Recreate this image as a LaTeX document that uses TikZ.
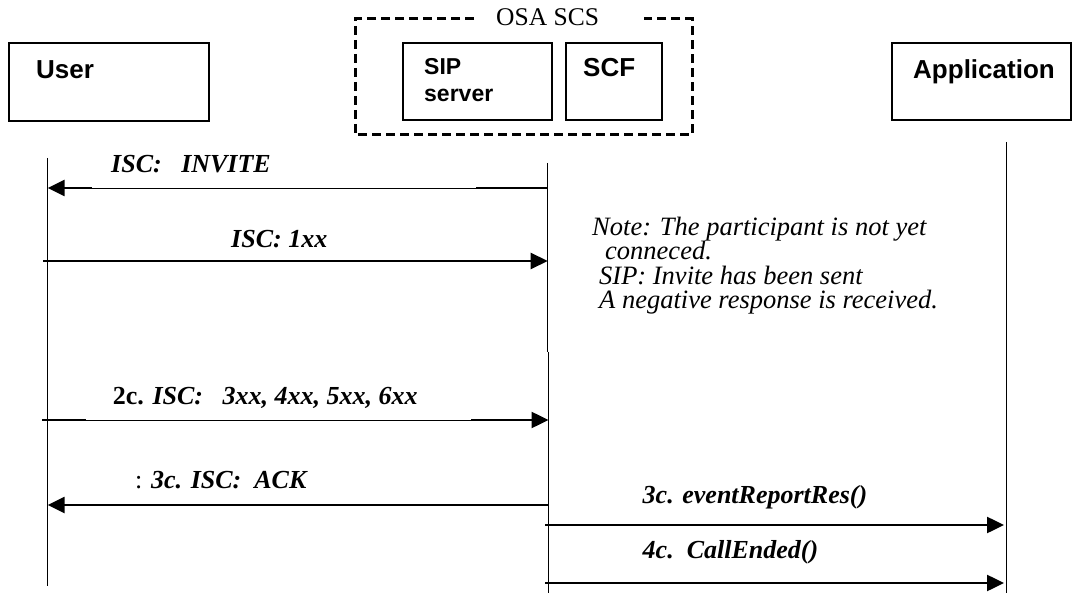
\documentclass[tikz,border=0pt]{standalone}
\usepackage{fontspec}
\setmainfont{Liberation Serif}
\newfontfamily\arialfont{Liberation Sans}
\usetikzlibrary{arrows.meta}
\begin{document}
\begin{tikzpicture}[x=1pt,y=-1pt,
  box/.style={draw,line width=1.3pt},
  dashbox/.style={line width=3pt,dash pattern=on 9pt off 5pt},
  boxlabel/.style={anchor=base west,inner sep=0,font=\arialfont\bfseries\fontsize{26}{26}\selectfont},
  sipfont/.style={anchor=base west,inner sep=0,font=\arialfont\bfseries\fontsize{23}{23}\selectfont},
  life/.style={line width=1.3pt},
  thickline/.style={line width=2.5pt},
  thinline/.style={line width=0.9pt},
  msg/.style={line width=2.5pt,-{Triangle[length=17pt,width=16pt]}},
  msglabel/.style={anchor=base west,inner sep=0,font=\bfseries\itshape\fontsize{26}{26}\selectfont},
  notetext/.style={anchor=base west,inner sep=0,font=\itshape\fontsize{26.5}{26.5}\selectfont},
  osalabel/.style={anchor=base west,inner sep=0,font=\fontsize{25.5}{25.5}\selectfont}
]
\useasboundingbox (0,0) rectangle (1073,593);

% header boxes
\draw[box] (9,43) rectangle (209,121);
\node[boxlabel] (userlbl) at (36,79) {User};
\draw[box] (403,43) rectangle (552,120);
\node[sipfont] (siplbl) at (424,75) {SIP};
\node[sipfont] (serverlbl) at (424,101.5) {server};
\draw[box] (566,43) rectangle (662,120);
\node[boxlabel] (scflbl) at (583,77) {SCF};
\draw[box] (892,43) rectangle (1071,120);
\node[boxlabel] (applbl) at (913,79) {Application};

% OSA SCS dashed frame
\draw[dashbox] (474,19) -- (355,19) -- (355,135) -- (692,135) -- (692,19) -- (644,19);
\node[osalabel] (osa) at (496,26) {OSA SCS};

% lifelines
\coordinate (uTop) at (47.7,158);
\coordinate (uBot) at (47.7,586);
\coordinate (sTop) at (547.7,163);
\coordinate (sMid) at (547.7,352);
\coordinate (sMidB) at (548.5,352);
\coordinate (sBot) at (548.5,593);
\coordinate (aTop) at (1006.7,142);
\coordinate (aBot) at (1006.7,593);
\draw[life] (uTop) -- (uBot);
\draw[life] (sTop) -- (sMid);
\draw[life] (sMidB) -- (sBot);
\draw[life] (aTop) -- (aBot);

% 1: INVITE
\coordinate (s1) at (547.7,188);
\coordinate (s1a) at (476,188);
\coordinate (u1a) at (92,188);
\coordinate (u1) at (47.7,188);
\draw[thinline] (s1) -- (u1a);
\draw[thickline] (s1) -- (s1a);
\draw[msg] (u1a) -- (u1);
\node[msglabel] (l1) at (111,173) {ISC:\ \ \ INVITE};

% 2: 1xx
\coordinate (u2) at (43,261);
\coordinate (s2) at (547.7,261);
\draw[msg] (u2) -- (s2);
\node[msglabel] (l2) at (231,248) {ISC: 1xx};

% note
\node[notetext] (n1) at (592,236) {Note: The participant is not yet};
\node[notetext] (n2) at (605,260) {conneced.};
\node[notetext] (n3) at (599,284.5) {SIP: Invite has been sent};
\node[notetext] (n4) at (599,309) {A negative response is received.};

% 3: 2c
\coordinate (u3) at (42,420);
\coordinate (u3a) at (86,420);
\coordinate (s3a) at (471,420);
\coordinate (s3) at (548.5,420);
\draw[thinline] (u3) -- (s3a);
\draw[thickline] (u3) -- (u3a);
\draw[msg] (s3a) -- (s3);
\node[msglabel] (l3) at (112.6,404) {{\upshape 2c.} ISC:\ \ \ 3xx, 4xx, 5xx, 6xx};

% 4: ACK
\coordinate (s4) at (548.5,505);
\coordinate (u4) at (47.7,505);
\draw[msg] (s4) -- (u4);
\node[msglabel] (l4) at (135,488) {{\mdseries\upshape :} 3c. ISC:\ \ ACK};

% 5: eventReportRes
\coordinate (s5) at (545,525);
\coordinate (a5) at (1004,525);
\draw[msg] (s5) -- (a5);
\node[msglabel] (l5) at (642.5,503) {3c. eventReportRes()};

% 6: CallEnded
\coordinate (s6) at (545,583);
\coordinate (a6) at (1004,583);
\draw[msg] (s6) -- (a6);
\node[msglabel] (l6) at (642.5,558) {4c.\ \ CallEnded()};
\end{tikzpicture}
\end{document}
